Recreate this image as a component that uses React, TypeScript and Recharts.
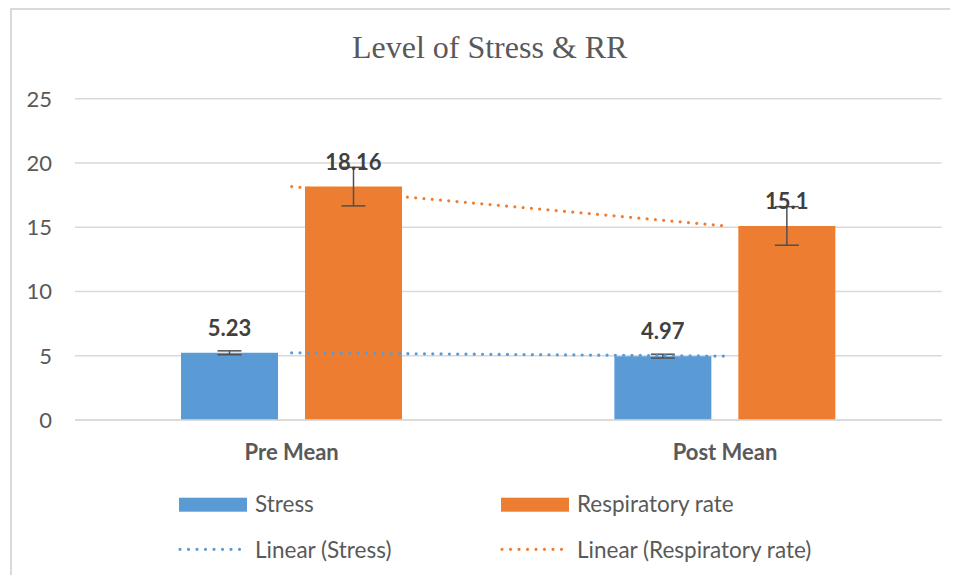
import React from "react"
import { ComposedChart, Bar, Line, XAxis, YAxis, CartesianGrid, ErrorBar, LabelList } from "recharts"

const categories = ["Pre Mean", "Post Mean"]
const stress = [5.23, 4.97]
const respiratory = [18.16, 15.1]
const stressErr = [0.15, 0.15]
const respiratoryErr = [1.5, 1.5]
const yTicks = [0, 5, 10, 15, 20, 25]

const data = categories.map((name, i) => ({
  name,
  stress: stress[i],
  rr: respiratory[i],
  stressErr: stressErr[i],
  rrErr: respiratoryErr[i],
  // two points, so the linear trend goes through both
  stressTrend: stress[i],
  rrTrend: respiratory[i],
}))

const BLUE = "#5B9BD5"
const ORANGE = "#ED7D31"
const TEXT = "#595959"
const FONT = "Lato, 'Noto Sans', sans-serif"

const Overlay = () => (
  <svg width={942} height={567} style={{ position: "absolute", left: 0, top: 0, pointerEvents: "none" }}>
    <text x={481.7} y={49.7} textAnchor="middle" fontFamily="'Liberation Serif', 'Times New Roman', serif" fontSize={32} fill={TEXT}>
      Level of Stress &amp; RR
    </text>
    <g fontFamily={FONT} fontSize={22.5} fill={TEXT}>
      <rect x={171} y={489.7} width={68} height={14} fill={BLUE} />
      <text x={247} y={503.7}>Stress</text>
      <rect x={493} y={489.7} width={68} height={14} fill={ORANGE} />
      <text x={569} y={503.7}>Respiratory rate</text>
      <line x1={172} y1={541.3} x2={240} y2={541.3} stroke={BLUE} strokeWidth={3.2} strokeDasharray="0 8.5" strokeLinecap="round" />
      <text x={247} y={549.7}>Linear (Stress)</text>
      <line x1={494} y1={541.3} x2={562} y2={541.3} stroke={ORANGE} strokeWidth={3.2} strokeDasharray="0 8.5" strokeLinecap="round" />
      <text x={569} y={549.7}>Linear (Respiratory rate)</text>
    </g>
  </svg>
)

export default function App() {
  return (
    <div style={{ position: "relative", width: 942, height: 567, overflow: "hidden" }}>
      <div style={{ position: "absolute", left: 2, top: 0, width: 1200, height: 1200, borderLeft: "2px solid #D9D9D9", borderTop: "2px solid #D9D9D9" }} />
      <div style={{ position: "absolute", left: 0, top: 0 }}>
        <ComposedChart width={942} height={567} data={data} margin={{ top: 90.7, right: 8.3, bottom: 125, left: 0 }} barGap={27}>
          <CartesianGrid vertical={false} stroke="#D9D9D9" strokeWidth={1.5} />
          <XAxis
            dataKey="name"
            height={30}
            axisLine={{ stroke: "#D9D9D9", strokeWidth: 1.5 }}
            tickLine={false}
            tickSize={0}
            tickMargin={24}
            tick={{ fill: TEXT, fontSize: 22, fontWeight: 700, fontFamily: FONT }}
          />
          <YAxis
            width={67}
            domain={[0, 25]}
            ticks={yTicks}
            axisLine={false}
            tickLine={false}
            tickSize={0}
            tickMargin={23}
            tick={{ fill: TEXT, fontSize: 22, fontFamily: FONT }}
          />
          <Bar dataKey="stress" fill={BLUE} barSize={97} isAnimationActive={false}>
            <ErrorBar dataKey="stressErr" width={12} stroke="#505050" strokeWidth={1.5} direction="y" />
            <LabelList dataKey="stress" position="top" offset={17} fill="#404040" fontSize={22} fontWeight={700} fontFamily={FONT} />
          </Bar>
          <Bar dataKey="rr" fill={ORANGE} barSize={97} isAnimationActive={false}>
            <ErrorBar dataKey="rrErr" width={12} stroke="#505050" strokeWidth={1.5} direction="y" />
            <LabelList dataKey="rr" position="top" offset={17} fill="#404040" fontSize={22} fontWeight={700} fontFamily={FONT} />
          </Bar>
          <Line dataKey="stressTrend" type="linear" stroke={BLUE} strokeWidth={3.2} strokeDasharray="0 8.3" strokeLinecap="round" dot={false} activeDot={false} isAnimationActive={false} />
          <Line dataKey="rrTrend" type="linear" stroke={ORANGE} strokeWidth={3.2} strokeDasharray="0 8.3" strokeLinecap="round" dot={false} activeDot={false} isAnimationActive={false} />
        </ComposedChart>
      </div>
      <Overlay />
    </div>
  )
}
